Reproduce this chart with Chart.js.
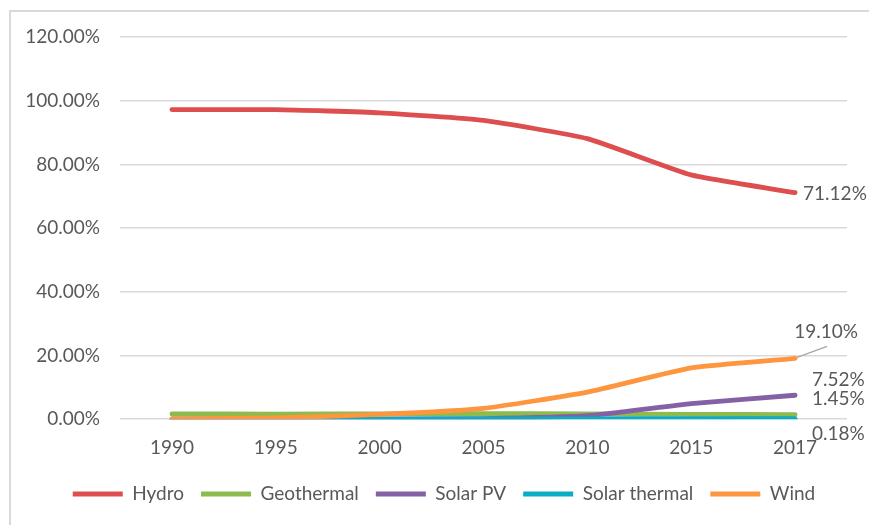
<!DOCTYPE html>
<html>
<head>
<meta charset="utf-8">
<script src="https://cdn.jsdelivr.net/npm/chart.js@4.4.0/dist/chart.umd.min.js"></script>
<style>
  html, body { margin: 0; padding: 0; background: #fff; }
  #frame {
    position: absolute; left: 9px; top: 10px;
    width: 870px; height: 520px;
    border-top: 2px solid #d9d9d9; border-left: 2px solid #d9d9d9;
    box-sizing: border-box;
  }
  #chart { position: absolute; left: 0; top: 0; }
</style>
</head>
<body>
<div id="frame"><canvas id="chart" width="858" height="513"></canvas></div>
<script>
const years = ['1990', '1995', '2000', '2005', '2010', '2015', '2017'];
const hydro = [97.2, 97.2, 96.2, 93.8, 88.1, 76.7, 71.12];
const geothermal = [1.65, 1.62, 1.7, 1.75, 1.65, 1.5, 1.45];
const solarPV = [0, 0, 0.05, 0.2, 1.1, 4.9, 7.52];
const solarThermal = [0.02, 0.03, 0.05, 0.1, 0.12, 0.15, 0.18];
const wind = [0.1, 0.4, 1.5, 3.4, 8.5, 16.1, 19.10];
const yTicks = [0, 20, 40, 60, 80, 100, 120];

const FONT = 'Lato, "Open Sans", sans-serif';
const TEXT = '#595959';

// end-of-line value labels (offsets in px from the last point)
const endLabels = {
  0: { dx: 8, dy: 1 },
  1: { dx: 17, dy: -16 },
  3: { dx: 17, dy: 15 },
  2: { dx: 17, dy: -15 },
  4: { dx: 31, dy: -26, leader: true, align: 'center' }
};

const endLabelPlugin = {
  id: 'endLabels',
  afterLayout(chart) {
    // legend sits a bit right of the canvas centre in the original
    const lg = chart.legend;
    if (lg) { lg.left += 15; lg.right += 15; }
  },
  afterDatasetsDraw(chart) {
    const ctx = chart.ctx;
    ctx.save();
    ctx.font = '19px ' + FONT;
    ctx.fillStyle = TEXT;
    ctx.textBaseline = 'middle';
    chart.data.datasets.forEach((ds, i) => {
      const cfg = endLabels[i];
      if (!cfg) return;
      const pts = chart.getDatasetMeta(i).data;
      const p = pts[pts.length - 1];
      const v = ds.data[ds.data.length - 1];
      const x = p.x + cfg.dx, y = p.y + cfg.dy;
      if (cfg.leader) {
        ctx.strokeStyle = '#a6a6a6';
        ctx.lineWidth = 1.2;
        ctx.beginPath();
        ctx.moveTo(p.x + 2, p.y - 1);
        ctx.lineTo(p.x + 32, p.y - 12);
        ctx.stroke();
      }
      ctx.textAlign = cfg.align || 'left';
      ctx.fillText(v.toFixed(2) + '%', x, y);
    });
    ctx.restore();
  }
};

function series(label, data, color, order) {
  return {
    label: label,
    data: data,
    borderColor: color,
    backgroundColor: color,
    borderWidth: 4.8,
    pointRadius: 0,
    tension: 0.15,
    borderCapStyle: 'round',
    borderJoinStyle: 'round',
    fill: false,
    order: order
  };
}

new Chart(document.getElementById('chart'), {
  type: 'line',
  data: {
    labels: years,
    datasets: [
      series('Hydro', hydro, '#dd4f4f', 5),
      series('Geothermal', geothermal, '#8dbb4e', 4),
      series('Solar PV', solarPV, '#8460a4', 3),
      series('Solar thermal', solarThermal, '#0aacc6', 2),
      series('Wind', wind, '#fd963e', 1)
    ]
  },
  options: {
    responsive: false,
    animation: false,
    layout: { padding: { left: 0, right: 22, top: 25, bottom: 11.5 } },
    plugins: {
      tooltip: { enabled: false },
      legend: {
        position: 'bottom',
        sort: (a, b) => a.datasetIndex - b.datasetIndex,
        labels: {
          boxWidth: 50,
          boxHeight: 5,
          useBorderRadius: true,
          borderRadius: 2.5,
          padding: 17,
          color: TEXT,
          font: { family: FONT, size: 19 },
          generateLabels(chart) {
            return chart.data.datasets.map((ds, i) => ({
              text: ds.label,
              fillStyle: ds.borderColor,
              strokeStyle: ds.borderColor,
              lineWidth: 0,
              hidden: false,
              datasetIndex: i,
              fontColor: TEXT
            }));
          }
        }
      }
    },
    scales: {
      x: {
        offset: true,
        grid: { display: false, drawTicks: false },
        border: { display: false },
        ticks: { color: TEXT, font: { family: FONT, size: 19 }, padding: 17 },
        afterFit(axis) { axis.height = axis.height - 8.5; }
      },
      y: {
        min: 0,
        max: 120,
        afterBuildTicks(axis) { axis.ticks = yTicks.map(v => ({ value: v })); },
        afterFit(axis) {
          axis.width = 109;
          axis.paddingTop = 0;
          axis.paddingBottom = 0;
        },
        grid: { color: '#d9d9d9', lineWidth: 1.5, drawTicks: false },
        border: { display: false },
        ticks: {
          color: TEXT,
          font: { family: FONT, size: 19 },
          padding: 20,
          callback: v => v.toFixed(2) + '%'
        }
      }
    }
  },
  plugins: [endLabelPlugin]
});
</script>
</body>
</html>
